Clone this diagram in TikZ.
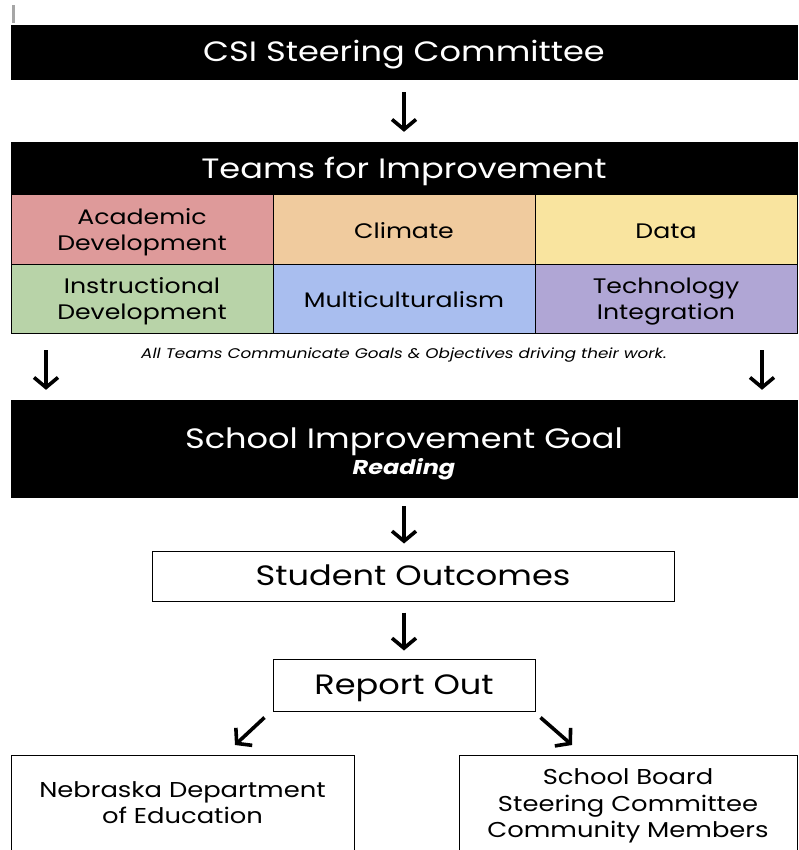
\documentclass[tikz,border=0pt]{standalone}
\usepackage{fontspec}
\setmainfont[FakeStretch=1.2]{Poppins}
\usetikzlibrary{arrows.meta}
\definecolor{acadpink}{HTML}{DE9A9A}
\definecolor{climpeach}{HTML}{F0CB9E}
\definecolor{datayellow}{HTML}{F9E49F}
\definecolor{instgreen}{HTML}{B8D3A8}
\definecolor{multiblue}{HTML}{A9BEEF}
\definecolor{techpurple}{HTML}{B0A6D5}
\begin{document}
\begin{tikzpicture}[x=1pt,y=-1pt,
    banner/.style={fill=black,draw=black,text=white,minimum width=786pt,inner sep=0pt,align=center},
    plainbox/.style={draw=black,line width=1pt,inner sep=0pt,align=center},
    bigtext/.style={font=\fontsize{28}{32}\selectfont,text height=19.5pt,text depth=0pt},
    team/.style={draw=black,line width=1pt,minimum width=262pt,minimum height=69.5pt,inner sep=0pt,align=center,
      font=\fontsize{21}{26}\selectfont,text height=17.5pt,text depth=0pt},
    twolines/.style={text height=41.6pt,text depth=0pt},
    flow/.style={line width=3.6pt,-{Straight Barb[length=10pt,width=24pt]}}]
  \useasboundingbox (0,0) rectangle (799,850);
  \fill[gray!70] (12,5) rectangle (15,23);
  % top of the chart
  \node[banner,bigtext,minimum height=54pt] (csi) at (404,52) {CSI Steering Committee};
  \node[banner,bigtext,minimum height=53pt] (teams) at (404,168.5) {Teams for Improvement};
  \draw[flow,shorten <=13pt,shorten >=10pt] (csi) -- (teams);
  % the six teams
  \node[team,twolines,fill=acadpink] (acad) at (142,229.5) {Academic\\Development};
  \node[team,fill=climpeach] (clim) at (404,229.5) {Climate};
  \node[team,fill=datayellow] (data) at (666,229.5) {Data};
  \node[team,twolines,fill=instgreen] (inst) at (142,299) {Instructional\\Development};
  \node[team,fill=multiblue] (multi) at (404,299) {Multiculturalism};
  \node[team,twolines,fill=techpurple] (tech) at (666,299) {Technology\\Integration};
  \node[font=\fontsize{14}{16}\selectfont\itshape] (note) at (404,355) {All Teams Communicate Goals \& Objectives driving their work.};
  % goal
  \node[banner,minimum height=97pt,font=\fontsize{28}{30}\selectfont,text height=51pt,text depth=0pt] (goal) at (404,448.5)
    {School Improvement Goal\\[-4pt]{\fontsize{20}{22}\selectfont\bfseries\itshape Reading}};
  \coordinate (lft) at (46,0);
  \coordinate (rgt) at (762,0);
  \draw[flow,shorten <=16pt,shorten >=10pt] (inst.south -| lft) -- (goal.north -| lft);
  \draw[flow,shorten <=16pt,shorten >=10pt] (tech.south -| rgt) -- (goal.north -| rgt);
  % outcomes and report
  \node[plainbox,bigtext,minimum width=522pt,minimum height=50pt] (outc) at (413,576) {Student Outcomes};
  \draw[flow,shorten <=9pt,shorten >=7pt] (goal.south -| 404,0) -- (outc.north -| 404,0);
  \node[plainbox,bigtext,minimum width=262pt,minimum height=52pt] (report) at (404,685) {Report Out};
  \draw[flow,shorten <=11pt,shorten >=8pt] (outc.south -| report) -- (report);
  % who hears about it
  \node[plainbox,minimum width=343pt,minimum height=96pt,font=\fontsize{21.5}{26}\selectfont] (nde) at (182.5,803) {Nebraska Department\\of Education};
  \node[plainbox,minimum width=338pt,minimum height=96pt,font=\fontsize{21.5}{26.5}\selectfont,text height=69pt,text depth=0pt] (board) at (628,803) {School Board\\Steering Committee\\Community Members};
  \coordinate (ndetip) at (235,745);
  \coordinate (boardtip) at (572,745);
  \draw[flow] ([shift={(-8,6)}]report.south west) -- (ndetip);
  \draw[flow] ([shift={(5,6)}]report.south east) -- (boardtip);
\end{tikzpicture}
\end{document}
